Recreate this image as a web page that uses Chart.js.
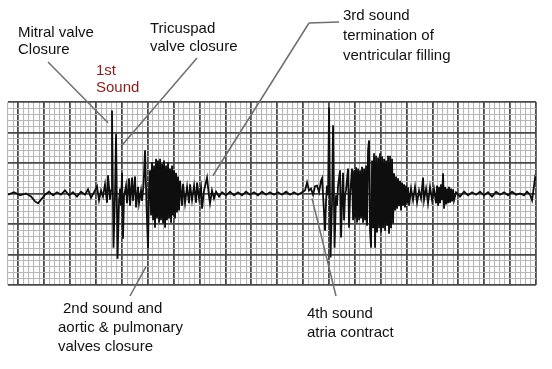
<!DOCTYPE html>
<html><head><meta charset="utf-8">
<script src="https://cdn.jsdelivr.net/npm/chart.js@4/dist/chart.umd.min.js"></script>
<style>html,body{margin:0;padding:0;background:#fff}#wrap{width:552px;height:369px;position:relative}</style>
</head><body><div id="wrap"><canvas id="c"></canvas></div>
<script>
// x: time in small grid boxes, y: amplitude in small grid boxes
const leadIn = [[-2.00,-0.2],[-0.84,0.2],[0.32,-0.3],[1.48,0],[2.44,-0.5],[3.22,-1.3],[3.80,-1.6],[4.38,-1.0],[5.15,-0.2],[5.92,0.3],[6.70,-0.3],[7.47,0.2],[8.24,-0.2],[9.01,0.5],[9.79,-0.3],[10.56,0.2],[11.33,-0.5],[12.10,0.3],[12.88,-0.2],[13.46,0.7],[14.04,-0.7],[14.62,0.2],[15.19,1.2],[15.58,-1.1],[15.97,0.5],[16.35,-0.5],[16.74,1.5],[17.13,-1.5],[17.32,3.0],[17.71,-1.0],[17.90,0.5]];
const firstSound = [[18.09,13.6],[18.38,-8.9],[18.67,-0.3],[18.87,9.8],[19.16,-10.7],[19.45,-1.2],[19.64,0.8],[19.83,-2.0],[20.03,3.4],[20.22,-7.4],[20.41,-0.5],[20.80,1.3],[20.99,-1.6],[21.38,2.5],[21.57,-2.0],[21.96,2.6],[22.15,-1.2],[22.54,2.8],[22.73,-2.3],[23.12,1.1],[23.31,-1.6],[23.70,0.5],[23.89,-1.2],[24.18,1.3],[24.47,7.1],[24.76,-2.0],[25.05,-9.0],[25.24,0.5]];
const firstBurst = [[25.44,3.8],[25.63,-3.6],[25.82,5.1],[26.02,-4.4],[26.21,4.6],[26.40,-5.6],[26.60,5.7],[26.79,-4.1],[26.98,5.4],[27.18,-4.8],[27.37,5.7],[27.56,-4.4],[27.76,4.9],[27.95,-4.9],[28.14,5.4],[28.34,-5.6],[28.53,4.6],[28.72,-4.4],[28.92,5.1],[29.11,-4.1],[29.30,4.1],[29.50,-4.8],[29.69,4.6],[29.88,-3.6],[30.08,3.8],[30.27,-4.1],[30.46,3.4],[30.66,-3.1],[30.85,2.8],[31.04,-2.8],[31.24,2.1]];
const afterFirst = [[31.62,-2.0],[31.82,1.6],[32.20,-1.6],[32.59,1.1],[32.97,-1.6],[33.17,1.5],[33.55,-1.1],[33.94,1.3],[34.33,-1.5],[34.52,1.8],[34.91,-0.8],[35.29,1.0],[35.49,-2.5],[35.87,0.5],[36.45,2.6],[36.84,-0.5],[37.03,-1.6],[37.41,0.5],[37.80,-0.8],[38.19,0.3],[38.77,-0.5],[39.35,0.2],[40.12,-0.3],[40.89,0.3],[41.66,-0.3],[42.44,0.2],[43.21,-0.3],[43.98,0.3],[44.76,-0.2],[45.53,0.2],[46.30,-0.3],[47.07,0.3],[47.85,-0.2],[48.62,0.2],[49.39,-0.2]];
const secondLead = [[50.16,0.2],[50.94,-0.2],[51.71,0.3],[52.48,-0.2],[53.26,0.2],[54.03,-0.2],[54.80,0.2],[55.38,0.5],[55.77,1.8],[56.15,0.5],[56.54,0.8],[56.93,-0.2],[57.31,1.2],[57.70,1.3],[58.09,0.2],[58.47,2.1],[58.67,2.5],[58.86,-0.3],[59.25,-6.1],[59.44,-1.2],[59.63,1.3],[59.83,-0.3]];
const secondSpikes = [[60.02,14.1],[60.31,-10.5],[60.60,-1.2],[60.79,11.2],[61.08,-8.9],[61.37,-0.3],[61.56,-2.0],[61.76,1.3],[62.14,3.8],[62.34,-7.2],[62.53,-1.2],[62.72,3.4],[62.92,-4.4],[63.11,-0.3],[63.30,0.5],[63.69,4.1],[63.88,-5.6],[64.08,-0.3]];
const secondBurst = [[64.46,4.1],[64.66,-4.4],[64.85,3.8],[65.04,-4.1],[65.24,4.3],[65.43,-4.8],[65.62,4.1],[65.82,-4.4],[66.01,3.8],[66.20,-4.1],[66.40,4.4],[66.59,-4.8],[66.78,4.1],[66.98,-4.4],[67.17,4.6],[67.36,-5.3],[67.55,7.0],[67.75,8.7],[67.94,-6.1],[68.13,-8.9],[68.33,5.4],[68.52,-5.7],[68.71,6.6],[68.91,-8.9],[69.10,6.2],[69.29,-6.4],[69.49,5.9],[69.68,-5.7],[69.87,6.6],[70.07,-6.4],[70.26,6.1],[70.45,-5.7],[70.65,5.7],[70.84,-6.1],[71.03,5.4],[71.23,-5.3],[71.42,6.2],[71.61,-6.6],[71.81,6.2],[72.00,-5.7],[72.19,5.7],[72.39,-4.9],[72.58,3.3],[72.77,-2.8],[72.97,2.8],[73.16,-2.5],[73.35,2.5],[73.55,-2.1],[73.74,2.1],[73.93,-2.8],[74.12,1.8],[74.32,-2.0],[74.51,1.5],[74.70,-2.3],[74.90,1.3],[75.09,-1.6],[75.28,1.0],[75.48,-2.0]];
const afterSecond = [[75.86,0.8],[76.25,-1.1],[76.63,1.1],[77.02,-1.5],[77.41,0.5],[77.79,-0.8],[78.18,2.6],[78.37,-1.1],[78.76,0.8],[79.14,-1.6],[79.53,1.1],[79.92,-1.1],[80.30,0.7],[80.69,-1.6],[80.88,1.3],[81.08,-2.0],[81.27,1.1],[81.46,-1.6],[81.66,1.5],[81.85,-1.1],[82.04,3.3],[82.24,-2.5],[82.43,1.1],[82.62,-1.8],[82.82,0.8],[83.01,-1.6],[83.20,1.1],[83.40,-1.5],[83.59,0.8],[83.78,-1.3],[83.98,0.7],[84.17,-1.1],[84.55,0.2]];
const tail = [[85.33,-0.5],[86.10,0.3],[86.87,-0.3],[87.65,0.2],[88.42,-0.2],[89.19,0.3],[89.96,-0.3],[90.74,0.2],[91.51,-0.5],[92.28,0.3],[93.06,-0.2],[93.83,0.2],[94.60,-0.3],[95.37,0.3],[96.15,-0.2],[96.92,0],[97.69,-0.3],[98.27,0.3],[98.85,-0.2],[99.24,-1.1],[99.62,1.3],[99.82,2.6],[100.0,2.1]];

const xRange = [-2, 100];
const yRange = [-15, 15];

// annotations: label lines (left, baseline in px), pointer from label side (px) to a data point on the trace
const annotations = [
  {lines:["Mitral valve","Closure"], x:18, y:37, lh:17, color:"#111", from:[48,62], to:[17.32,11.6]},
  {lines:["Tricuspad","valve closure"], x:150, y:33, lh:18, color:"#111", from:[197,58], to:[20.03,7.9]},
  {lines:["1st","Sound"], x:96, y:75, lh:17, color:"#8b1c1c"},
  {lines:["3rd sound","termination of","ventricular filling"], x:343, y:20, lh:20, color:"#111", from:[309,23], to:[37.6,2.95], tick:[339,22]},
  {lines:["2nd sound and"], x:63, y:313, lh:19, color:"#111", from:[130,296], to:[24.66,-12.0]},
  {lines:["aortic & pulmonary","valves closure"], x:58, y:332, lh:19, color:"#111"},
  {lines:["4th sound","atria contract"], x:307, y:318, lh:19, color:"#111", from:[336,296], to:[56.73,-0.8]}
];

const trace = [].concat(leadIn, firstSound, firstBurst, afterFirst, secondLead, secondSpikes, secondBurst, afterSecond, tail).map(p => ({x:p[0], y:p[1]}));

const xTicks = []; for (let i = xRange[0]; i <= xRange[1]; i++) xTicks.push(i);
const yTicks = []; for (let i = yRange[0]; i <= yRange[1]; i++) yTicks.push(i);

const MAJOR = '#4a4a4a', MINOR = '#b8b8b8';
const gridOpts = {
  drawTicks:false,
  color: c => (c.tick && c.tick.value % 5 === 0) ? MAJOR : MINOR,
  lineWidth: c => (c.tick && c.tick.value % 5 === 0) ? 1.8 : 1.1
};

const annot = {
  id:'annot',
  afterDatasetsDraw(chart){
    const ctx = chart.ctx, xs = chart.scales.x, ys = chart.scales.y;
    ctx.save();
    ctx.strokeStyle = '#6e6e6e'; ctx.lineWidth = 1.5;
    annotations.forEach(a => {
      if (a.from) {
        ctx.beginPath();
        ctx.moveTo(a.from[0], a.from[1]);
        ctx.lineTo(xs.getPixelForValue(a.to[0]), ys.getPixelForValue(a.to[1]));
        ctx.stroke();
      }
      if (a.tick) {
        ctx.beginPath(); ctx.moveTo(a.from[0], a.from[1]); ctx.lineTo(a.tick[0], a.tick[1]); ctx.stroke();
      }
    });
    ctx.font = '15px "Liberation Sans", Arial, sans-serif';
    ctx.textBaseline = 'alphabetic'; ctx.textAlign = 'left';
    annotations.forEach(a => {
      ctx.fillStyle = a.color;
      a.lines.forEach((t, i) => ctx.fillText(t, a.x, a.y + i * a.lh));
    });
    ctx.restore();
  }
};

new Chart(document.getElementById('c'), {
  type:'line',
  data:{datasets:[{data:trace, borderColor:'#0e0e0e', borderWidth:1.8, pointRadius:0, tension:0, fill:false}]},
  options:{
    animation:false, responsive:true, maintainAspectRatio:false,
    layout:{padding:{left:8, top:102, right:16, bottom:84}},
    plugins:{legend:{display:false}, tooltip:{enabled:false}},
    scales:{
      x:{type:'linear', min:xRange[0], max:xRange[1], afterBuildTicks:s => { s.ticks = xTicks.map(v => ({value:v})); },
         ticks:{display:false}, grid:gridOpts, border:{display:false}},
      y:{type:'linear', min:yRange[0], max:yRange[1], afterBuildTicks:s => { s.ticks = yTicks.map(v => ({value:v})); },
         ticks:{display:false}, grid:gridOpts, border:{display:false}}
    }
  },
  plugins:[annot]
});
</script></body></html>
